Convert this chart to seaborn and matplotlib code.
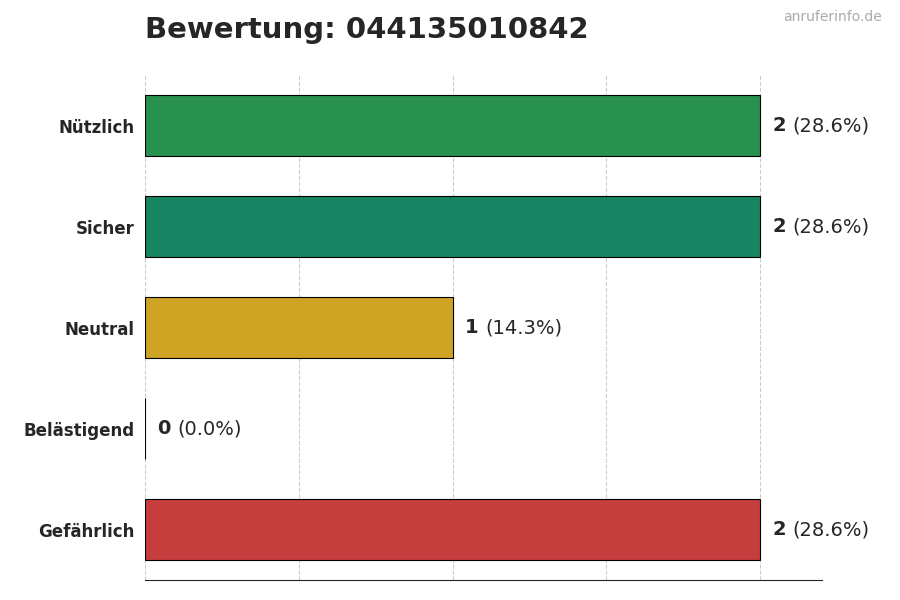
import matplotlib
matplotlib.use("Agg")
import matplotlib.pyplot as plt
import seaborn as sns
import pandas as pd

# --- Daten ---
kategorien = ["Nützlich", "Sicher", "Neutral", "Belästigend", "Gefährlich"]
anzahl = [2, 2, 1, 0, 2]
prozent = [28.6, 28.6, 14.3, 0.0, 28.6]
farben = ["#16a34a", "#059669", "#eab308", "#9ca3af", "#dc2626"]

df = pd.DataFrame({"kategorie": kategorien, "anzahl": anzahl})

sns.set_style("white")
plt.rcParams["font.family"] = ["DejaVu Sans"]

fig = plt.figure(figsize=(9, 6), dpi=100)
ax = fig.add_axes([0.161, 0.033, 0.752, 0.842])

sns.barplot(data=df, x="anzahl", y="kategorie", hue="kategorie", palette=farben,
            orient="h", width=0.6, edgecolor="black", linewidth=0.8, legend=False, ax=ax)

ax.set_xlim(0, 2.2)
ax.set_xticks([0, 0.5, 1, 1.5, 2])
ax.set_xticklabels([])
ax.tick_params(axis="x", length=6)
ax.tick_params(axis="y", length=4, labelsize=12)
for lbl in ax.get_yticklabels():
    lbl.set_fontweight("bold")
ax.set_xlabel("")
ax.set_ylabel("")
ax.grid(axis="x", linestyle="--", color="#cccccc", linewidth=0.8)
ax.set_axisbelow(True)
for s in ["top", "right", "left"]:
    ax.spines[s].set_visible(False)

# --- Beschriftungen ---
for i, (n, p) in enumerate(zip(anzahl, prozent)):
    ax.annotate(str(n), (n, i), xytext=(9, 0), textcoords="offset points",
                va="center", ha="left", fontsize=14, fontweight="bold")
    ax.annotate(f"({p:.1f}%)", (n, i), xytext=(23.5, 0), textcoords="offset points",
                va="center", ha="left", fontsize=14)

fig.text(0.161, 0.95, "Bewertung: 044135010842", fontsize=21, fontweight="bold",
         ha="left", va="center")
fig.text(0.98, 0.972, "anruferinfo.de", fontsize=10, color="#aaaaaa", ha="right", va="center")

fig.savefig("out.png", dpi=100)
